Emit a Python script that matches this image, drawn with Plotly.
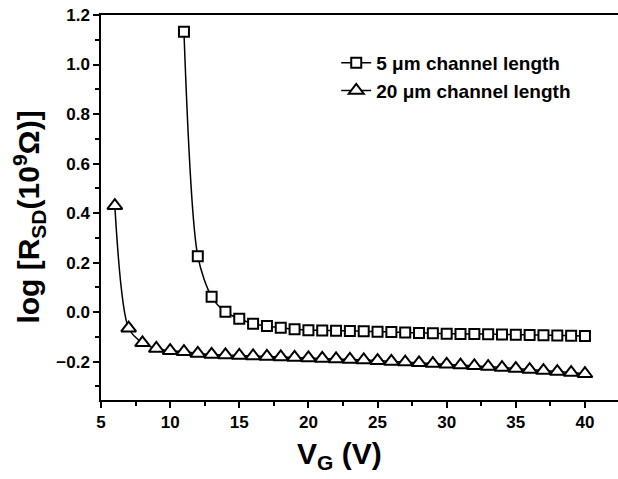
import plotly.graph_objects as go

# Data
vg_5um = list(range(11, 41))
r_5um = [1.132, 0.226, 0.062, 0.001, -0.027, -0.047, -0.056, -0.063, -0.069, -0.073,
         -0.074, -0.075, -0.076, -0.077, -0.079, -0.080, -0.082, -0.084, -0.085, -0.087,
         -0.088, -0.088, -0.089, -0.090, -0.091, -0.092, -0.093, -0.094, -0.095, -0.097]

vg_20um = list(range(6, 41))
r_20um = [0.430, -0.065, -0.124, -0.147, -0.156, -0.160, -0.167, -0.171, -0.173, -0.175,
          -0.177, -0.179, -0.181, -0.183, -0.185, -0.187, -0.189, -0.191, -0.193, -0.196,
          -0.199, -0.202, -0.205, -0.208, -0.211, -0.214, -0.217, -0.220, -0.224, -0.228,
          -0.232, -0.236, -0.240, -0.244, -0.249]

series_names = ["5 μm channel length", "20 μm channel length"]
x_ticks = [5, 10, 15, 20, 25, 30, 35, 40]
y_ticks = [-0.2, 0.0, 0.2, 0.4, 0.6, 0.8, 1.0, 1.2]

FONT = "Liberation Sans, Arial, sans-serif"

fig = go.Figure()
fig.add_trace(go.Scatter(
    x=vg_5um, y=r_5um, name=series_names[0], mode="lines+markers",
    line=dict(color="black", width=1.5, shape="spline", smoothing=0.8),
    marker=dict(symbol="square", size=10, color="white",
                line=dict(color="black", width=2)),
    legendgroup="a"))
fig.add_trace(go.Scatter(
    x=vg_20um, y=r_20um, name=series_names[1], mode="lines+markers",
    line=dict(color="black", width=1.5, shape="spline", smoothing=0.8),
    marker=dict(symbol="triangle-up", size=13, color="white",
                line=dict(color="black", width=2)),
    legendgroup="b"))

fig.update_layout(
    width=618, height=479,
    margin=dict(l=101, r=0, t=15, b=79),
    plot_bgcolor="white", paper_bgcolor="white",
    font=dict(family=FONT, color="black", size=15, weight="bold"),
    showlegend=True,
    legend=dict(x=0.455, y=0.925, xanchor="left", yanchor="top",
                bgcolor="rgba(0,0,0,0)", tracegroupgap=0,
                font=dict(size=19, family=FONT, weight="bold")),
    xaxis=dict(range=[5, 42.39], tickvals=x_ticks, ticks="outside", ticklen=6,
               tickwidth=1.5, tickcolor="black",
               showline=True, linecolor="black", linewidth=1.5, mirror=True,
               showgrid=False, zeroline=False,
               tickfont=dict(size=17, family=FONT, weight="bold"),
               minor=dict(dtick=2.5, tick0=5, ticks="outside", ticklen=4,
                          tickwidth=1.5, tickcolor="black", showgrid=False)),
    yaxis=dict(range=[-0.355, 1.2], tickvals=y_ticks, tickformat=".1f",
               ticks="outside", ticklen=6, tickwidth=1.5, tickcolor="black",
               showline=True, linecolor="black", linewidth=1.5, mirror=False,
               showgrid=False, zeroline=False,
               tickfont=dict(size=17, family=FONT, weight="bold"),
               minor=dict(dtick=0.1, tick0=0, ticks="outside", ticklen=4,
                          tickwidth=1.5, tickcolor="black", showgrid=False)),
)

fig.add_annotation(text="V<sub>G</sub> (V)", xref="paper", yref="paper",
                   x=(339 - 101) / 517, y=-0.145, xanchor="center", yanchor="middle",
                   showarrow=False, font=dict(size=30, family=FONT, weight="bold"))
fig.add_annotation(text="log [R<sub>SD</sub>(10<sup>9</sup>Ω)]", xref="paper", yref="paper",
                   x=-0.14, y=(400 - 217) / 385, xanchor="center", yanchor="middle",
                   textangle=-90, showarrow=False,
                   font=dict(size=30, family=FONT, weight="bold"))

fig.write_html("out.html")
